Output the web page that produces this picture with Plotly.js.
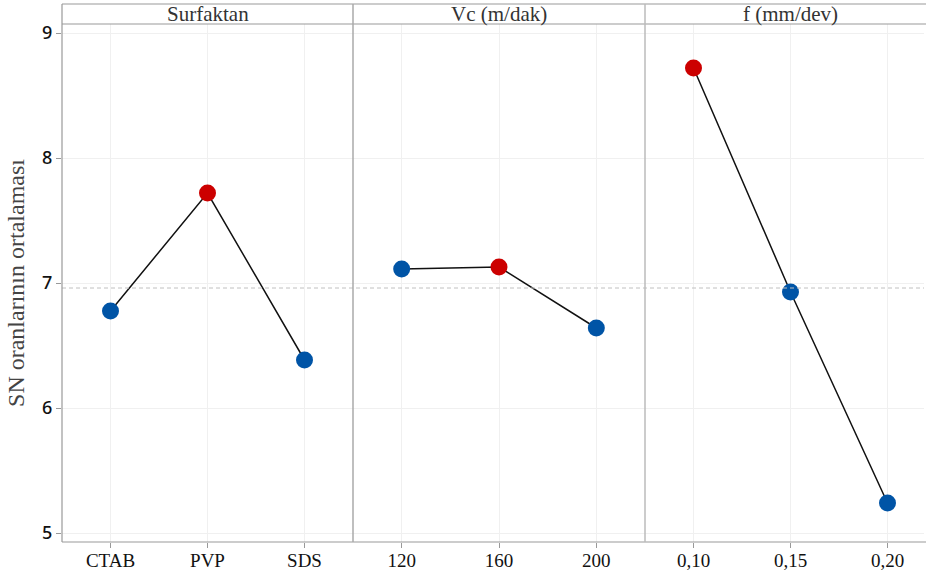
<!DOCTYPE html>
<html><head><meta charset="utf-8">
<script src="https://cdn.plot.ly/plotly-3.0.1.min.js"></script>
<style>body{margin:0;background:#fff}#c{width:926px;height:573px}</style>
</head><body><div id="c"></div>
<script>
const panelTitles = ["Surfaktan", "Vc (m/dak)", "f (mm/dev)"];
const surfLevels = ["CTAB", "PVP", "SDS"];
const surfValues = [6.776, 7.72, 6.384];
const vcLevels = ["120", "160", "200"];
const vcValues = [7.112, 7.128, 6.64];
const fLevels = ["0,10", "0,15", "0,20"];
const fValues = [8.72, 6.928, 5.24];
const grandMean = 6.96;
const yTicks = [5, 6, 7, 8, 9];

const BLUE = "#0054a6", RED = "#cc0000";
function colors(vals){const m=Math.max(...vals);return vals.map(v=>v===m?RED:BLUE);}
const levels=[surfLevels,vcLevels,fLevels], values=[surfValues,vcValues,fValues];
const traces = levels.map((lv,i)=>({
  x: lv, y: values[i], type:"scatter", mode:"lines+markers",
  xaxis: i===0?"x":"x"+(i+1), yaxis:"y",
  line:{color:"#111",width:1.5},
  marker:{size:17,color:colors(values[i])},
  hoverinfo:"x+y", showlegend:false
}));

const W=862;
const d1=291/W, d2=583/W;
const hdr=1+20/518;
const xbase={type:"category",showgrid:true,gridcolor:"#f0f0f0",gridwidth:1,zeroline:false,
  ticks:"outside",ticklen:5,tickcolor:"#999",showline:false,ticklabelstandoff:-4,
  tickfont:{family:"Liberation Serif",size:19,color:"#111"},fixedrange:true};
const shapes=[];
const ln=(x0,y0,x1,y1,c,w,dash,xref,yref)=>shapes.push({type:"line",xref:xref||"paper",yref:yref||"paper",x0,y0,x1,y1,line:{color:c,width:w,dash:dash||"solid"},layer:"above"});
// mean line
ln(0,grandMean,1,grandMean,"#c0c0c0",1,"4px,3px","paper","y");
// header
ln(0,hdr,1.003,hdr,"#999",1.2);
ln(0,1,1.003,1,"#999",1.2);
ln(0,0,1.003,0,"#999",1.2);
ln(0,0,0,hdr,"#999",1.2);
ln(d1,0,d1,hdr,"#aaa",1.5);
ln(d2,0,d2,hdr,"#bbb",1.5);
const annotations=panelTitles.map((t,i)=>{
  const doms=[[0,d1],[d1,d2],[d2,1]][i];
  let cx=(doms[0]+doms[1])/2; if(i===2) cx=(d2*W+145.5)/W;
  return {text:t,xref:"paper",yref:"paper",x:cx,y:(1+hdr)/2,showarrow:false,
    xanchor:"center",yanchor:"middle",font:{family:"Liberation Serif",size:21,color:"#333"}};
});
const layout={
  width:926,height:573,margin:{l:62,r:2,t:24,b:31},paper_bgcolor:"#fff",plot_bgcolor:"#fff",
  xaxis:Object.assign({},xbase,{domain:[0,d1],range:[-0.5,2.5]}),
  xaxis2:Object.assign({},xbase,{domain:[d1,d2],range:[-0.5,2.5]}),
  xaxis3:Object.assign({},xbase,{domain:[d2,1],range:[-0.5,-0.5+279/97]}),
  yaxis:{range:[4.928,9.072],tickvals:yTicks,showgrid:true,gridcolor:"#f0f0f0",zeroline:false,
    ticks:"outside",ticklen:5,tickcolor:"#999",showline:false,
    tickfont:{family:"Noto Sans",size:18,color:"#111",weight:500},fixedrange:true,
    title:{text:"SN oranlarının ortalaması",font:{family:"Liberation Serif",size:24,color:"#444"},standoff:10}},
  shapes,annotations
};
Plotly.newPlot("c",traces,layout,{displayModeBar:false,staticPlot:true});
</script></body></html>
